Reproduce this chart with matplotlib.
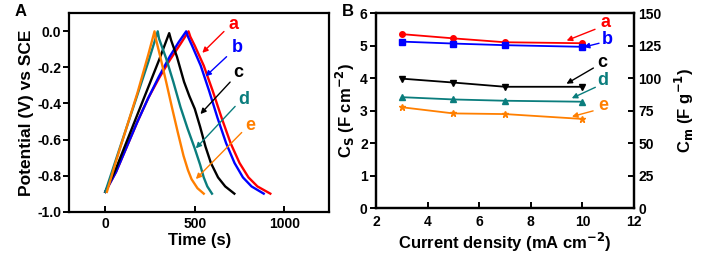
import matplotlib
matplotlib.use("Agg")
import matplotlib.pyplot as plt

plt.rcParams['font.family'] = ['Liberation Sans', 'DejaVu Sans']
plt.rcParams['font.weight'] = 'bold'
plt.rcParams['mathtext.default'] = 'bf'

# ---------------- Panel A data: galvanostatic charge/discharge ----------------
t_a = [0, 60, 120, 180, 240, 300, 360, 420, 465, 475, 500, 550, 600, 650, 700, 750, 800, 850, 922]
v_a = [-0.89, -0.78, -0.64, -0.50, -0.37, -0.26, -0.16, -0.07, 0.0, -0.03, -0.08, -0.19, -0.33, -0.48, -0.62, -0.73, -0.81, -0.86, -0.90]

t_b = [0, 60, 120, 180, 240, 300, 360, 410, 452, 462, 485, 533, 580, 627, 675, 722, 769, 817, 885]
v_b = [-0.89, -0.78, -0.64, -0.50, -0.37, -0.25, -0.14, -0.06, 0.0, -0.03, -0.08, -0.19, -0.33, -0.48, -0.62, -0.73, -0.81, -0.86, -0.90]

t_c = [0, 60, 120, 180, 240, 300, 357, 368, 400, 440, 470, 500, 530, 560, 590, 630, 670, 721]
v_c = [-0.89, -0.76, -0.61, -0.46, -0.31, -0.16, -0.01, -0.05, -0.14, -0.28, -0.36, -0.43, -0.53, -0.64, -0.73, -0.81, -0.86, -0.90]

t_d = [0, 60, 120, 180, 240, 293, 300, 340, 380, 420, 460, 500, 530, 550, 570, 596]
v_d = [-0.89, -0.71, -0.53, -0.35, -0.17, 0.0, -0.04, -0.15, -0.28, -0.42, -0.54, -0.65, -0.74, -0.81, -0.86, -0.90]

t_e = [9, 60, 120, 180, 240, 275, 282, 307, 340, 372, 405, 437, 462, 482, 515, 550]
v_e = [-0.89, -0.72, -0.53, -0.34, -0.13, 0.0, -0.04, -0.14, -0.28, -0.42, -0.56, -0.69, -0.77, -0.82, -0.87, -0.90]

# ---------------- Panel B data: capacitance vs current density ----------------
current = [3, 5, 7, 10]
cs_a = [5.36, 5.23, 5.11, 5.08]
cs_b = [5.13, 5.07, 5.02, 4.97]
cs_c = [3.99, 3.87, 3.74, 3.74]
cs_d = [3.42, 3.35, 3.31, 3.28]
cs_e = [3.11, 2.92, 2.90, 2.75]

labels = ['a', 'b', 'c', 'd', 'e']
colors = ['#ff0000', '#0000ff', '#000000', '#0a7d7d', '#ff7f00']
markers = ['o', 's', 'v', '^', '*']

fig = plt.figure(figsize=(7.02, 2.61), dpi=100)

# ---------------- Panel A ----------------
axA = fig.add_axes([0.099, 0.189, 0.3697, 0.760])
curvesA = [(t_a, v_a), (t_b, v_b), (t_c, v_c), (t_d, v_d), (t_e, v_e)]
for (tt, vv), col in zip(curvesA, colors):
    axA.plot(tt, vv, color=col, lw=1.7, solid_joinstyle='round')
axA.set_xlim(-200, 1250)
axA.set_ylim(-1.0, 0.1)
axA.set_xticks([0, 500, 1000])
axA.set_yticks([0.0, -0.2, -0.4, -0.6, -0.8, -1.0])
axA.set_yticklabels(['0.0', '-0.2', '-0.4', '-0.6', '-0.8', '-1.0'])
axA.set_xlabel('Time (s)', fontsize=12, fontweight='bold', labelpad=1)
axA.set_ylabel('Potential (V) vs SCE', fontsize=12.5, fontweight='bold', labelpad=2)

# annotations panel A: (text pos, arrow start, arrow tip)
annA = [
    ((717, 0.037), (674, 0.01), (531, -0.13)),
    ((736, -0.09), (689, -0.13), (549, -0.26)),
    ((745, -0.23), (708, -0.27), (521, -0.47)),
    ((773, -0.38), (736, -0.405), (495, -0.66)),
    ((810, -0.52), (773, -0.55), (495, -0.83)),
]
for lab, col, (tp, ap, tip) in zip(labels, colors, annA):
    axA.text(tp[0], tp[1], lab, color=col, fontsize=13, fontweight='bold', ha='center', va='center')
    axA.annotate('', xy=tip, xytext=ap,
                 arrowprops=dict(arrowstyle='-|>', color=col, lw=1.0, mutation_scale=8))

# ---------------- Panel B ----------------
axB = fig.add_axes([0.5356, 0.2019, 0.3675, 0.747])
seriesB = [cs_a, cs_b, cs_c, cs_d, cs_e]
for yy, col, mk in zip(seriesB, colors, markers):
    ms = 5 if mk == '*' else 4
    axB.plot(current, yy, color=col, lw=1.3, marker=mk, ms=ms, mec=col, mfc=col)
axB.set_xlim(2, 12)
axB.set_ylim(0, 6)
axB.set_xticks([2, 4, 6, 8, 10, 12])
axB.set_yticks([0, 1, 2, 3, 4, 5, 6])
axB.set_xlabel('Current density (mA cm$^{-2}$)', fontsize=12, fontweight='bold', labelpad=1)
axB.set_ylabel('C$_S$ (F cm$^{-2}$)', fontsize=12, fontweight='bold', labelpad=2)

axB2 = axB.twinx()
axB2.set_ylim(0, 150)
axB2.set_yticks([0, 25, 50, 75, 100, 125, 150])
axB2.set_ylabel('C$_m$ (F g$^{-1}$)', fontsize=12, fontweight='bold', labelpad=8)

annB = [
    ((10.91, 5.71), (10.59, 5.54), (9.29, 5.13)),
    ((10.98, 5.20), (10.75, 5.10), (9.95, 4.94)),
    ((10.78, 4.48), (10.52, 4.36), (9.29, 3.79)),
    ((10.80, 3.92), (10.60, 3.76), (9.49, 3.35)),
    ((10.80, 3.15), (10.52, 3.02), (9.49, 2.80)),
]
for lab, col, (tp, ap, tip) in zip(labels, colors, annB):
    axB.text(tp[0], tp[1], lab, color=col, fontsize=13, fontweight='bold', ha='center', va='center')
    axB.annotate('', xy=tip, xytext=ap,
                 arrowprops=dict(arrowstyle='-|>', color=col, lw=1.0, mutation_scale=8))

for ax in (axA, axB, axB2):
    for sp in ax.spines.values():
        sp.set_linewidth(1.6)
    ax.tick_params(labelsize=10, width=1.4, length=4, pad=2)
    for lb in ax.get_xticklabels() + ax.get_yticklabels():
        lb.set_fontweight('bold')

axA.tick_params(axis='x', direction='in', pad=4)
axA.tick_params(axis='y', direction='out')
axB.tick_params(axis='x', direction='in', pad=5)
axB.tick_params(axis='y', direction='out')
axB2.tick_params(axis='y', direction='in', pad=3)

fig.text(0.021, 0.955, 'A', fontsize=12, fontweight='bold', ha='left', va='center')
fig.text(0.487, 0.955, 'B', fontsize=12, fontweight='bold', ha='left', va='center')

fig.savefig('out.png', dpi=100)
